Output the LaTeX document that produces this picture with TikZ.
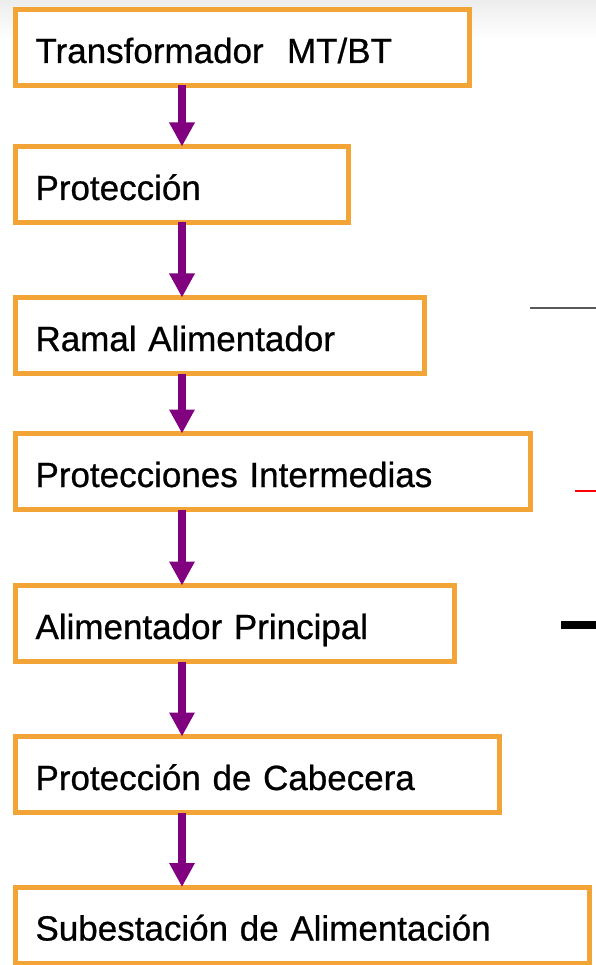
\documentclass[tikz,border=0pt]{standalone}
\usepackage{fontspec}
\setmainfont{Liberation Sans}[FakeBold=0.7]
\usetikzlibrary{arrows.meta,calc}
\definecolor{boxorange}{HTML}{F2A437}
\definecolor{arrowpurple}{HTML}{800080}
\begin{document}
\begin{tikzpicture}[x=1pt,y=-1pt,
  stepbox/.style={draw=boxorange, line width=5pt, fill=white, rectangle,
    anchor=north west, outer sep=0pt, inner xsep=20pt, inner ysep=0pt,
    minimum height=76pt, text height=31pt, text depth=0pt, align=left,
    font=\fontsize{35}{42}\selectfont},
  flow/.style={draw=arrowpurple, line width=7.5pt,
    -{Triangle[width=24pt,length=24pt]}}]
\useasboundingbox (0,0) rectangle (596,965);
\fill[white] (0,0) rectangle (596,965);
\shade[top color=black!7, bottom color=white] (0,0) rectangle (596,40);
% stray marks on the right
\draw[black!65, line width=1.5pt] (530,308) -- (596,308);
\draw[red, line width=2pt] (575,491) -- (596,491);
\draw[black, line width=8pt] (561,625) -- (596,625);
% boxes
\node[stepbox, text width=414pt] (b1) at (15.5,9.5) {Transformador\ \ MT/BT};
\node[stepbox, text width=293pt] (b2) at (15.5,146.5) {Protección};
\node[stepbox, text width=369pt] (b3) at (15.5,297.5) {Ramal Alimentador};
\node[stepbox, text width=475pt] (b4) at (15.5,433.5) {Protecciones Intermedias};
\node[stepbox, text width=399pt] (b5) at (15.5,585.5) {Alimentador Principal};
\node[stepbox, text width=444pt] (b6) at (15.5,736.5) {Protección de Cabecera};
\node[stepbox, text width=534pt] (b7) at (15.5,887) {Subestación de Alimentación};
% arrows
\coordinate (ax) at (182,0);
\draw[flow] (b1.south -| ax) -- (b2.north -| ax);
\draw[flow] (b2.south -| ax) -- (b3.north -| ax);
\draw[flow] (b3.south -| ax) -- (b4.north -| ax);
\draw[flow] (b4.south -| ax) -- (b5.north -| ax);
\draw[flow] (b5.south -| ax) -- (b6.north -| ax);
\draw[flow] (b6.south -| ax) -- (b7.north -| ax);
\end{tikzpicture}
\end{document}
